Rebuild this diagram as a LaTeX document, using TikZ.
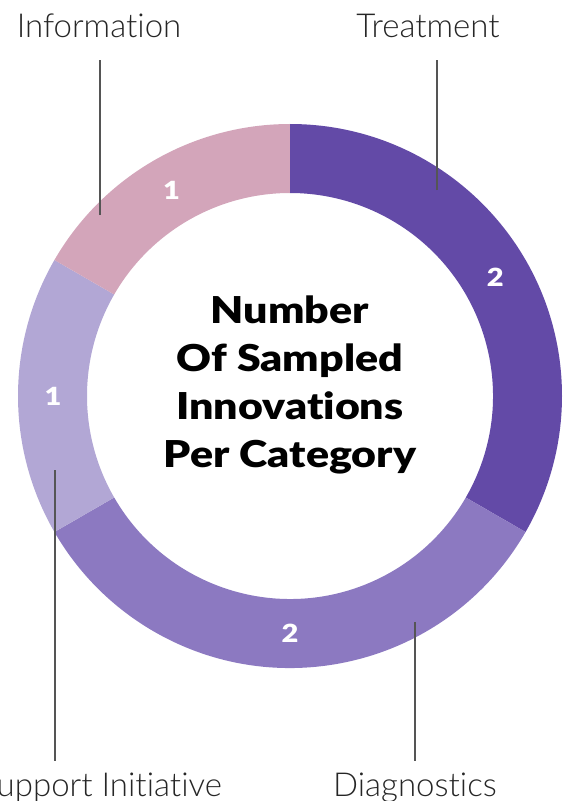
\documentclass[tikz,border=0pt]{standalone}
\usepackage{fontspec}
\setmainfont{Lato}
\newfontfamily\thinfont{Lato Light}[Ligatures=NoCommon]
\newfontfamily\heavyfont{Lato Black}[Ligatures=NoCommon, FakeStretch=1.16]
\usetikzlibrary{positioning}

\definecolor{treatcol}{HTML}{634AA7}
\definecolor{diagcol}{HTML}{8C79C1}
\definecolor{supcol}{HTML}{B2A7D5}
\definecolor{infocol}{HTML}{D3A5BA}
\definecolor{leadcol}{HTML}{555555}

\begin{document}
\begin{tikzpicture}[x=1pt, y=1pt,
	lbl/.style={font=\thinfont\fontsize{33}{33}\selectfont, text=black!85, inner sep=0pt},
	num/.style={font=\heavyfont\fontsize{25}{25}\selectfont, text=white, inner sep=0pt},
	leader/.style={draw=leadcol, line width=1.1pt}]

	\clip (-290,-405) rectangle (280,396);

	% ring segments, 2 + 2 + 1 + 1
	\fill [treatcol] (90:272) arc [start angle=90, end angle=-30, radius=272] -- (-30:203) arc [start angle=-30, end angle=90, radius=203] -- cycle;
	\fill [diagcol] (-30:272) arc [start angle=-30, end angle=-150, radius=272] -- (-150:203) arc [start angle=-150, end angle=-30, radius=203] -- cycle;
	\fill [supcol] (-150:272) arc [start angle=-150, end angle=-210, radius=272] -- (150:203) arc [start angle=150, end angle=210, radius=203] -- cycle;
	\fill [infocol] (150:272) arc [start angle=150, end angle=90, radius=272] -- (90:203) arc [start angle=90, end angle=150, radius=203] -- cycle;

	\node [num] (n-treat) at (30:237) {2};
	\node [num] (n-diag) at (-90:237) {2};
	\node [num] (n-sup) at (180:237) {1};
	\node [num] (n-info) at (120:237) {1};

	\node [align=center, font=\heavyfont\fontsize{37}{48}\selectfont] (title) at (0,11) {Number\\Of Sampled\\Innovations\\Per Category};

	% labels and leaders
	\node [lbl, anchor=base] (info) at (-191,358) {Information};
	\node [lbl, anchor=base] (treat) at (138,358) {Treatment};
	\node [lbl, anchor=base] (diag) at (125,-400) {Diagnostics};
	\node [lbl, anchor=base east] (sup) at (-68,-400) {Support Initiative};

	\coordinate (infopt) at (-190,181);
	\coordinate (treatpt) at (147,206);
	\coordinate (diagpt) at (125,-226);
	\coordinate (suppt) at (-235,-74);

	\draw [leader] (infopt) -- ([yshift=-22pt] infopt |- info.south);
	\draw [leader] (treatpt) -- ([yshift=-22pt] treatpt |- treat.south);
	\draw [leader] (diagpt) -- ([yshift=11pt] diagpt |- diag.north);
	\draw [leader] (suppt) -- ([yshift=11pt] suppt |- sup.north);

\end{tikzpicture}
\end{document}
